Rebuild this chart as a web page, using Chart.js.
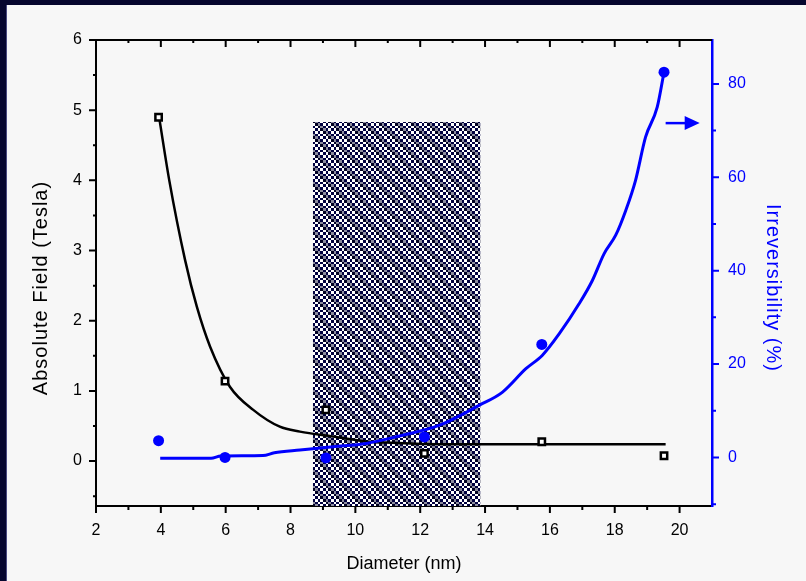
<!DOCTYPE html>
<html>
<head>
<meta charset="utf-8">
<script src="https://cdn.jsdelivr.net/npm/chart.js@4.4.1/dist/chart.umd.min.js"></script>
<style>
  html, body { margin: 0; padding: 0; background: #f7f7f7; }
  canvas { display: block; }
</style>
</head>
<body>
<canvas id="fieldChart" width="806" height="581"></canvas>
<script>
// measured samples
const diameter = [3.93, 5.98, 9.09, 12.13, 15.75, 19.52];
const absField = [4.9, 1.14, 0.73, 0.11, 0.275, 0.076];
const irrev = [3.6, 0.0, -0.1, 4.4, 24.2, 82.5];

// fitted curves
const fieldFitX = [3.95, 4.26, 4.75, 5.11, 5.52, 6.13, 6.85, 7.67, 8.29, 9.31, 10.34, 11.15, 12.6, 16.0, 19.57];
const fieldFitY = [4.89, 4.0, 2.86, 2.2, 1.63, 1.06, 0.73, 0.49, 0.42, 0.35, 0.28, 0.26, 0.24, 0.24, 0.24];
const irrevFitX = [3.98, 5.55, 5.85, 7.15, 7.5, 8.29, 9.31, 10.34, 11.36, 12.6, 13.83, 14.54, 15.26, 15.77, 16.29, 16.9, 17.31, 17.67, 18.03, 18.34, 18.64, 18.95, 19.31, 19.52];
const irrevFitY = [-0.2, -0.2, 0.3, 0.4, 1.0, 1.6, 2.3, 3.0, 4.6, 6.9, 11.2, 14.0, 19.0, 21.9, 26.5, 32.9, 37.9, 43.6, 47.6, 52.9, 59.3, 68.6, 75.0, 82.5];

// shaded diameter window
const bandRange = [8.69, 13.86];
const bandTop = 4.83;

// arrow pointing at the right axis
const arrowRange = [19.57, 20.62];
const arrowLevel = 71.6;

// ticks
const xMajor = [2, 4, 6, 8, 10, 12, 14, 16, 18, 20];
const xMinor = [3, 5, 7, 9, 11, 13, 15, 17, 19];
const yMajor = [0, 1, 2, 3, 4, 5, 6];
const yMinor = [-0.5, 0.5, 1.5, 2.5, 3.5, 4.5, 5.5];
const y2Major = [0, 20, 40, 60, 80];
const y2Minor = [-10, 10, 30, 50, 70];

const BLUE = '#0000ff';
const FONT = '"Liberation Sans", Arial, sans-serif';

function pairs(xs, ys) {
  return xs.map((x, i) => ({ x: x, y: ys[i] }));
}

// coarse checkerboard with faint diagonal streaks
function checkerPattern(ctx) {
  const edges = [0, 3, 6, 8, 11, 14, 16];
  const tile = document.createElement('canvas');
  tile.width = 16; tile.height = 16;
  const t = tile.getContext('2d');
  t.fillStyle = '#ffffff';
  t.fillRect(0, 0, 16, 16);
  for (let i = 0; i < 6; i++) {
    for (let j = 0; j < 6; j++) {
      const x0 = edges[i], w = edges[i + 1] - x0;
      const y0 = edges[j], h = edges[j + 1] - y0;
      if ((i + j) % 2 === 0) {
        t.fillStyle = (i - j + 6) % 6 === 0 ? '#000022' : '#000040';
        t.fillRect(x0, y0, w, h);
      } else if ((i - j + 6) % 6 === 1) {
        t.fillStyle = '#8c8c9e';
        t.fillRect(x0, y0, w, h);
      }
    }
  }
  return ctx.createPattern(tile, 'repeat');
}

const frame = {
  id: 'frame',
  beforeDraw(chart) {
    const ctx = chart.ctx;
    ctx.save();
    ctx.fillStyle = '#f7f7f7';
    ctx.fillRect(0, 0, chart.width, chart.height);
    ctx.fillStyle = '#06062e';
    ctx.fillRect(0, 0, 6, chart.height);
    ctx.fillRect(0, 0, chart.width, 5);
    ctx.fillStyle = '#4a4a80';
    ctx.fillRect(6, 5, 1, chart.height - 5);
    ctx.restore();
  }
};

const axisMarks = {
  id: 'axisMarks',
  afterDraw(chart) {
    const { ctx, chartArea: a, scales } = chart;
    const x = scales.x, y = scales.y, y2 = scales.y2;
    ctx.save();
    ctx.lineWidth = 2;
    ctx.strokeStyle = '#000';
    ctx.beginPath();
    // top frame line
    ctx.moveTo(a.left - 1, a.top);
    ctx.lineTo(a.right, a.top);
    xMajor.forEach(v => {
      const p = x.getPixelForValue(v);
      ctx.moveTo(p, a.bottom); ctx.lineTo(p, a.bottom + 7);
      ctx.moveTo(p, a.top); ctx.lineTo(p, a.top + 7);
    });
    xMinor.forEach(v => {
      const p = x.getPixelForValue(v);
      ctx.moveTo(p, a.bottom); ctx.lineTo(p, a.bottom + 4);
      ctx.moveTo(p, a.top); ctx.lineTo(p, a.top + 3);
    });
    yMajor.forEach(v => {
      const p = y.getPixelForValue(v);
      ctx.moveTo(a.left, p); ctx.lineTo(a.left - 7, p);
    });
    yMinor.forEach(v => {
      const p = y.getPixelForValue(v);
      ctx.moveTo(a.left, p); ctx.lineTo(a.left - 3, p);
    });
    ctx.stroke();

    ctx.strokeStyle = BLUE;
    ctx.beginPath();
    y2Major.forEach(v => {
      const p = y2.getPixelForValue(v);
      ctx.moveTo(a.right, p); ctx.lineTo(a.right + 7, p);
    });
    y2Minor.forEach(v => {
      const p = y2.getPixelForValue(v);
      ctx.moveTo(a.right, p); ctx.lineTo(a.right + 4, p);
    });
    ctx.stroke();

    // arrow
    const ax0 = x.getPixelForValue(arrowRange[0]);
    const ax1 = x.getPixelForValue(arrowRange[1]);
    const ay = y2.getPixelForValue(arrowLevel);
    ctx.lineWidth = 2.5;
    ctx.beginPath();
    ctx.moveTo(ax0, ay); ctx.lineTo(ax1 - 12, ay);
    ctx.stroke();
    ctx.fillStyle = BLUE;
    ctx.beginPath();
    ctx.moveTo(ax1, ay);
    ctx.lineTo(ax1 - 15, ay - 7);
    ctx.lineTo(ax1 - 15, ay + 7);
    ctx.closePath();
    ctx.fill();

    // vertical axis titles
    const cy = (a.top + a.bottom) / 2 + 15;
    ctx.font = '20px ' + FONT;
    ctx.letterSpacing = '1px';
    ctx.textAlign = 'center';
    ctx.textBaseline = 'middle';
    ctx.fillStyle = '#000';
    ctx.save();
    ctx.translate(41, cy);
    ctx.rotate(-Math.PI / 2);
    ctx.fillText('Absolute Field (Tesla)', 0, 0);
    ctx.restore();
    ctx.fillStyle = BLUE;
    ctx.save();
    ctx.translate(773, cy);
    ctx.rotate(Math.PI / 2);
    ctx.fillText('Irreversibility (%)', 0, 0);
    ctx.restore();
    ctx.restore();
  }
};

const canvas = document.getElementById('fieldChart');
const ctx = canvas.getContext('2d');

new Chart(ctx, {
  type: 'scatter',
  data: {
    datasets: [
      {
        label: 'band',
        type: 'line',
        data: bandRange.map(v => ({ x: v, y: bandTop })),
        yAxisID: 'y',
        fill: 'start',
        backgroundColor: checkerPattern(ctx),
        borderWidth: 0,
        pointRadius: 0,
        order: 10
      },
      {
        label: 'field fit',
        type: 'line',
        data: pairs(fieldFitX, fieldFitY),
        yAxisID: 'y',
        borderColor: '#000',
        borderWidth: 2.5,
        pointRadius: 0,
        cubicInterpolationMode: 'monotone',
        fill: false,
        order: 3
      },
      {
        label: 'irreversibility fit',
        type: 'line',
        data: pairs(irrevFitX, irrevFitY),
        yAxisID: 'y2',
        borderColor: BLUE,
        borderWidth: 3,
        pointRadius: 0,
        cubicInterpolationMode: 'monotone',
        fill: false,
        order: 2
      },
      {
        label: 'Absolute Field',
        data: pairs(diameter, absField),
        yAxisID: 'y',
        pointStyle: 'rect',
        pointRadius: 4.5,
        backgroundColor: '#ffffff',
        borderColor: '#000',
        borderWidth: 2.5,
        order: 1
      },
      {
        label: 'Irreversibility',
        data: pairs(diameter, irrev),
        yAxisID: 'y2',
        pointStyle: 'circle',
        pointRadius: 5.5,
        backgroundColor: BLUE,
        borderColor: BLUE,
        borderWidth: 0,
        order: 0
      }
    ]
  },
  options: {
    responsive: false,
    animation: false,
    layout: { padding: { top: 40, left: 0, right: 0, bottom: 0 } },
    plugins: { legend: { display: false }, tooltip: { enabled: false } },
    scales: {
      x: {
        type: 'linear',
        position: 'bottom',
        min: 2,
        max: 21,
        afterBuildTicks: s => { s.ticks = xMajor.map(v => ({ value: v })); },
        afterFit: s => { s.height = 75; },
        grid: { display: false, drawTicks: false },
        border: { display: true, color: '#000', width: 2 },
        ticks: { color: '#000', font: { family: FONT, size: 16 }, padding: 15, maxRotation: 0, autoSkip: false },
        title: {
          display: true,
          text: 'Diameter (nm)',
          color: '#000',
          font: { family: FONT, size: 18 },
          padding: { top: 0, bottom: 6 }
        }
      },
      y: {
        type: 'linear',
        position: 'left',
        min: -0.64,
        max: 6,
        afterBuildTicks: s => { s.ticks = yMajor.map(v => ({ value: v })); },
        afterFit: s => { s.width = 96; },
        grid: { display: false, drawTicks: false },
        border: { display: true, color: '#000', width: 2 },
        ticks: { color: '#000', font: { family: FONT, size: 16 }, padding: 14 }
      },
      y2: {
        type: 'linear',
        position: 'right',
        min: -10.4,
        max: 89.4,
        afterBuildTicks: s => { s.ticks = y2Major.map(v => ({ value: v })); },
        afterFit: s => { s.width = 94; },
        grid: { display: false, drawTicks: false },
        border: { display: true, color: BLUE, width: 2.5 },
        ticks: { color: BLUE, font: { family: FONT, size: 16 }, padding: 16 }
      }
    }
  },
  plugins: [frame, axisMarks]
});
</script>
</body>
</html>
